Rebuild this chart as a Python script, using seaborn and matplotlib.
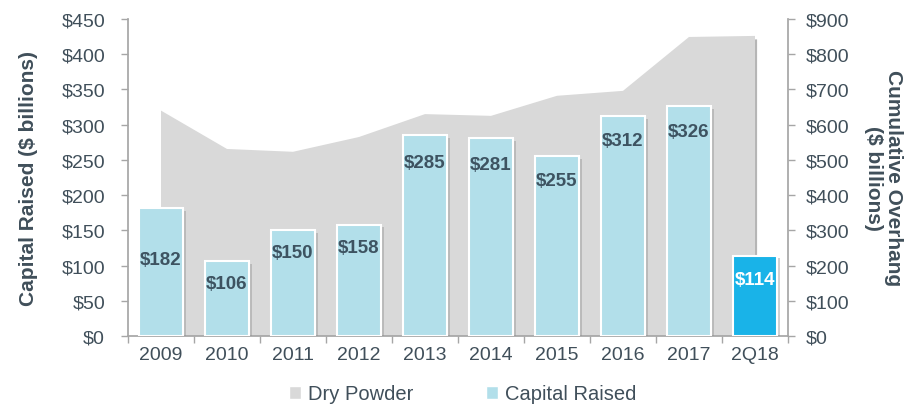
import matplotlib
matplotlib.use("Agg")
import matplotlib.pyplot as plt
import matplotlib.patheffects as pe
from matplotlib.patches import Patch
import seaborn as sns
import pandas as pd
import numpy as np

# ---- data ----
years = ["2009", "2010", "2011", "2012", "2013", "2014", "2015", "2016", "2017", "2Q18"]
capital_raised = [182, 106, 150, 158, 285, 281, 255, 312, 326, 114]
dry_powder = [640, 531, 523, 565, 630, 625, 682, 696, 849, 852]
bar_colors = ["#B2DFEA"] * 9 + ["#19B3E8"]
label_colors = ["#3D5361"] * 9 + ["#FFFFFF"]
label_offsets = [-52, -22, -22, -23, -27, -26, -24, -24, -25, -24]  # px below bar top

sns.set_theme(style="white")
plt.rcParams["font.family"] = ["Liberation Sans", "DejaVu Sans"]
txt = "#404F5A"
spine_c = "#A6A6A6"

fig = plt.figure(figsize=(9.15, 4.06), dpi=100)
ax_area = fig.add_axes([128 / 915, 1 - 337 / 406, 660 / 915, 317 / 406])
ax_bar = ax_area.twinx()

# area (right axis, drawn behind)
xs = np.arange(len(years))
poly = ax_area.fill_between(xs, dry_powder, 0, color="#D9D9D9", lw=0)
poly.set_path_effects([pe.SimplePatchShadow(offset=(1.5, -2.5), shadow_rgbFace="#6F6F6F", alpha=0.5), pe.Normal()])
ax_area.set_ylim(0, 900)
ax_area.set_xlim(-0.5, len(years) - 0.5)

# bars (left axis)
df = pd.DataFrame({"year": years, "raised": capital_raised})
sns.barplot(data=df, x="year", y="raised", hue="year", palette=bar_colors, legend=False,
            ax=ax_bar, width=0.67, edgecolor="white", linewidth=1.5, saturation=1)
for p in ax_bar.patches:
    p.set_path_effects([pe.SimplePatchShadow(offset=(2, -2), shadow_rgbFace="#8C8C8C", alpha=0.4), pe.Normal()])
ax_bar.set_ylim(0, 450)
ax_bar.set_xlim(-0.5, len(years) - 0.5)

for i, (v, c, off) in enumerate(zip(capital_raised, label_colors, label_offsets)):
    ax_bar.annotate(f"${v}", (i, v), xytext=(0, off * 0.72), textcoords="offset points",
                    ha="center", va="center", fontsize=13.5, fontweight="bold", color=c)

# axes styling
ax_bar.yaxis.tick_left()
ax_bar.yaxis.set_label_position("left")
ax_area.yaxis.tick_right()
ax_area.yaxis.set_label_position("right")

ax_bar.set_yticks(range(0, 451, 50))
ax_bar.set_yticklabels([f"${v}" for v in range(0, 451, 50)])
ax_area.set_yticks(range(0, 901, 100))
ax_area.set_yticklabels([f"${v}" for v in range(0, 901, 100)])

# x ticks on the base axes (twin's x-axis is hidden)
ax_area.set_xticks(xs)
ax_area.set_xticklabels(years)
ax_area.set_xticks(np.arange(-0.5, len(years)), minor=True)
ax_area.tick_params(axis="x", which="major", length=0, labelsize=14, colors=txt, pad=7, bottom=True, labelbottom=True)
ax_area.tick_params(axis="x", which="minor", length=5, width=1, color=spine_c, direction="out", bottom=True)
ax_bar.tick_params(axis="y", length=5, width=1, color=spine_c, labelsize=14, labelcolor=txt, direction="out", pad=11.5, left=True, right=False)
ax_area.tick_params(axis="y", length=5, width=1, color=spine_c, labelsize=14, labelcolor=txt, direction="out", pad=8, right=True, left=False)

ax_bar.set_xlabel("")
ax_bar.set_ylabel("Capital Raised ($ billions)", fontsize=15, fontweight="bold", color=txt, labelpad=17)
ax_area.set_ylabel("Cumulative Overhang\n($ billions)", fontsize=15, fontweight="bold", color=txt,
                   rotation=270, labelpad=38, linespacing=1.05)

for a in (ax_bar, ax_area):
    for s in a.spines.values():
        s.set_visible(False)
    a.grid(False)
ax_bar.spines["left"].set_visible(True)
ax_bar.spines["left"].set_color(spine_c)
ax_bar.spines["right"].set_visible(True)
ax_bar.spines["right"].set_color(spine_c)
ax_area.spines["bottom"].set_visible(True)
ax_area.spines["bottom"].set_color(spine_c)
ax_area.spines["bottom"].set_zorder(5)

handles = [Patch(facecolor="#D9D9D9", label="Dry Powder"), Patch(facecolor="#B2DFEA", label="Capital Raised")]
leg = fig.legend(handles=handles, loc="center", bbox_to_anchor=(463 / 915, 1 - 395 / 406), ncol=2,
                 frameon=False, fontsize=14.5, handlelength=0.6, handleheight=0.6, handletextpad=0.35,
                 columnspacing=3.6)
for t in leg.get_texts():
    t.set_color(txt)

fig.savefig("out.png", dpi=100)
